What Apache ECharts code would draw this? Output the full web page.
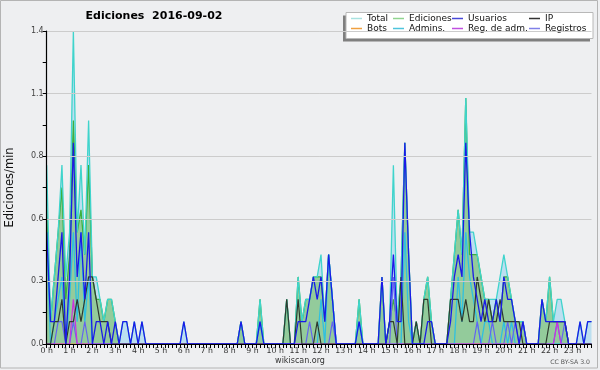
<!DOCTYPE html>
<html><head><meta charset="utf-8">
<script src="https://cdn.jsdelivr.net/npm/echarts@6/dist/echarts.min.js"></script>
<style>html,body{margin:0;padding:0;background:#eeeff1}#c{width:600px;height:370px}</style>
</head><body><div id="c"></div>
<script>
// 10-minute bins, 144 per day (index i = hour*6 + tenMinute)
const hourLabels = ['0 h','1 h','2 h','3 h','4 h','5 h','6 h','7 h','8 h','9 h','10 h','11 h','12 h','13 h','14 h','15 h','16 h','17 h','18 h','19 h','20 h','21 h','22 h','23 h'];
const yTicks = [0, 0.28, 0.56, 0.84, 1.12, 1.4];
const total = [
0.8,0.1,0.3,0.5,0.8,0.3, 0.5,1.4,0.5,0.8,0.4,1.0, 0.3,0.3,0.2,0.1,0.2,0.2, 0.1,0,0.1,0.1,0,0.1,
0,0.1,0,0,0,0, 0,0,0,0,0,0, 0.1,0,0,0,0,0, 0,0,0,0,0,0,
0,0,0,0.1,0,0, 0,0,0.2,0,0,0, 0,0,0,0.2,0,0, 0.3,0.1,0.2,0.2,0.3,0.3,
0.4,0.1,0.4,0.2,0,0, 0,0,0,0,0.2,0, 0,0,0,0,0.3,0, 0.1,0.8,0.1,0.3,0.9,0.4,
0,0.1,0,0.2,0.3,0.1, 0,0,0,0,0.2,0.4, 0.6,0.4,1.1,0.5,0.5,0.4, 0.3,0.2,0.2,0.2,0.2,0.3,
0.4,0.3,0.2,0.1,0.1,0.1, 0,0,0,0,0.2,0.1, 0.3,0.1,0.2,0.2,0.1,0, 0,0,0.1,0,0.1,0.1];
const ediciones = [
0.6,0.1,0.3,0.5,0.7,0.2, 0.4,1.0,0.5,0.6,0.4,0.8, 0.3,0.2,0.2,0.1,0.2,0.2, 0.1,0,0,0,0,0,
0,0,0,0,0,0, 0,0,0,0,0,0, 0,0,0,0,0,0, 0,0,0,0,0,0,
0,0,0,0.1,0,0, 0,0,0.2,0,0,0, 0,0,0,0.2,0,0, 0.3,0.1,0.2,0.2,0.3,0.3,
0.3,0.1,0.4,0.2,0,0, 0,0,0,0,0.2,0, 0,0,0,0,0.3,0, 0.1,0.2,0.1,0.3,0.9,0.4,
0,0.1,0,0.2,0.3,0.1, 0,0,0,0,0.2,0.4, 0.6,0.4,1.1,0.4,0.4,0.4, 0.3,0.2,0.2,0.1,0.2,0.1,
0.3,0.3,0.2,0.1,0.1,0.1, 0,0,0,0,0.2,0.1, 0.3,0.1,0.1,0.1,0.1,0, 0,0,0,0,0,0];
const usuarios = [
0.5,0.1,0.1,0.3,0.5,0, 0.3,0.9,0.3,0.5,0.2,0.5, 0,0.1,0.1,0,0.1,0, 0.1,0,0.1,0.1,0,0.1,
0,0.1,0,0,0,0, 0,0,0,0,0,0, 0.1,0,0,0,0,0, 0,0,0,0,0,0,
0,0,0,0.1,0,0, 0,0,0.1,0,0,0, 0,0,0,0,0,0, 0.1,0.1,0.1,0.2,0.3,0.2,
0.3,0.1,0.4,0.2,0,0, 0,0,0,0,0.1,0, 0,0,0,0,0.3,0, 0.1,0.4,0.1,0.1,0.9,0.4,
0,0,0,0,0.1,0.1, 0,0,0,0,0.1,0.3, 0.4,0.3,0.9,0.5,0.3,0.2, 0.1,0.2,0.1,0.1,0.2,0.1,
0.3,0.2,0.2,0.1,0,0.1, 0,0,0,0,0.2,0.1, 0.1,0.1,0.1,0.1,0.1,0, 0,0,0.1,0,0.1,0.1];
const ip = [
0,0,0.1,0.1,0.2,0, 0.1,0.1,0.2,0.1,0.2,0.3, 0.3,0.2,0.1,0.1,0.1,0, 0,0,0,0,0,0,
0,0,0,0,0,0, 0,0,0,0,0,0, 0,0,0,0,0,0, 0,0,0,0,0,0,
0,0,0,0,0,0, 0,0,0,0,0,0, 0,0,0,0.2,0,0, 0.2,0,0,0,0,0.1,
0,0,0,0,0,0, 0,0,0,0,0,0, 0,0,0,0,0,0, 0.1,0.1,0,0.3,0,0,
0,0.1,0,0.2,0.2,0, 0,0,0,0,0.2,0.2, 0.2,0.1,0.2,0.1,0.1,0.3, 0.2,0.1,0.2,0.1,0.1,0.2,
0.1,0.1,0.1,0.1,0.1,0, 0,0,0,0,0,0, 0.1,0.1,0.1,0.1,0.1,0, 0,0,0,0,0,0];
const bots = [
0,0,0,0,0,0, 0,0,0,0,0,0, 0,0,0,0,0,0, 0,0,0,0,0,0,
0,0,0,0,0,0, 0,0,0,0,0,0, 0,0,0,0,0,0, 0,0,0,0,0,0,
0,0,0,0,0,0, 0,0,0,0,0,0, 0,0,0,0,0,0, 0,0,0,0,0,0,
0,0,0,0,0,0, 0,0,0,0,0,0, 0,0,0,0,0,0, 0,0,0,0,0,0,
0,0,0,0,0,0, 0,0,0,0,0,0, 0,0,0,0,0,0, 0,0,0,0,0,0,
0,0,0,0,0,0, 0,0,0,0,0,0, 0,0,0,0,0,0, 0,0,0,0,0,0];
const admins = [
0.5,0,0.1,0.2,0.3,0, 0.2,0.5,0.1,0.5,0.1,0.3, 0,0,0,0,0,0, 0,0,0,0,0,0,
0,0,0,0,0,0, 0,0,0,0,0,0, 0,0,0,0,0,0, 0,0,0,0,0,0,
0,0,0,0,0,0, 0,0,0.1,0,0,0, 0,0,0,0,0,0, 0,0,0,0,0,0,
0.2,0,0.4,0.2,0,0, 0,0,0,0,0.1,0, 0,0,0,0,0,0, 0,0,0,0,0.5,0.1,
0,0,0,0,0,0, 0,0,0,0,0,0, 0.3,0.1,0.5,0.3,0.2,0.1, 0,0.1,0.1,0,0,0,
0.1,0,0.1,0,0,0, 0,0,0,0,0,0, 0,0,0,0,0,0, 0,0,0,0,0,0];
const regAdm = [
0,0,0,0,0,0, 0,0.2,0,0,0,0, 0,0,0,0,0,0, 0,0,0,0,0,0,
0,0,0,0,0,0, 0,0,0,0,0,0, 0,0,0,0,0,0, 0,0,0,0,0,0,
0,0,0,0,0,0, 0,0,0,0,0,0, 0,0,0,0,0,0, 0,0,0,0,0,0,
0,0,0,0,0,0, 0,0,0,0,0,0, 0,0,0,0,0,0, 0,0,0,0,0,0,
0,0,0,0,0,0, 0,0,0,0,0,0, 0,0,0,0,0,0, 0,0,0,0,0,0,
0,0,0,0,0,0, 0,0,0,0,0,0, 0,0,0.1,0,0,0, 0,0,0,0,0,0];
const registros = [
0,0,0,0.1,0.1,0, 0,0.1,0,0,0.1,0, 0,0,0,0,0,0, 0,0,0,0,0,0,
0,0,0,0,0,0, 0,0,0,0,0,0, 0,0,0,0,0,0, 0,0,0,0,0,0,
0,0,0,0,0,0, 0,0,0,0,0,0, 0,0,0,0,0,0, 0,0,0,0.1,0,0,
0,0,0,0.1,0,0, 0,0,0,0,0,0, 0,0,0,0,0,0, 0,0.3,0,0,0,0,
0,0,0,0,0,0, 0,0,0,0,0,0, 0,0,0,0,0,0.1, 0,0,0,0.1,0,0,
0,0.1,0,0.1,0,0.1, 0,0,0,0,0,0, 0,0,0.1,0,0.1,0, 0,0,0,0,0,0];

const pts = a => a.map((v, i) => [i, v]);
const F = 'DejaVu Sans';
function line(name, arr, color, w, z, extra) {
  return Object.assign({
    name: name, type: 'line', data: pts(arr), showSymbol: false, symbol: 'none',
    lineStyle: { color: color, width: w }, itemStyle: { color: color }, z: z, silent: true
  }, extra || {});
}
const chart = echarts.init(document.getElementById('c'), null, { renderer: 'canvas' });
const legBase = {
  orient: 'vertical', top: 13.5, padding: 0, itemGap: 0, itemWidth: 11, itemHeight: 1.5,
  icon: 'rect', selectedMode: false, z: 6,
  textStyle: { fontFamily: F, fontSize: 9, color: '#111', lineHeight: 10 }
};
const leg = (left, items) => Object.assign({}, legBase, { left: left, data: items });
chart.setOption({
  animation: false,
  backgroundColor: '#eeeff1',
  grid: { left: 46.7, right: 8.5, top: 31, bottom: 26, containLabel: false, outerBoundsMode: 'none' },
  xAxis: {
    type: 'value', min: 0, max: 143, interval: 1, z: 10,
    axisLine: { lineStyle: { color: '#000', width: 1.2 } },
    axisTick: { show: true, length: 4, lineStyle: { color: '#000' } },
    axisLabel: { fontFamily: F, fontSize: 7.8, color: '#333', margin: 2.5, hideOverlap: false,
      formatter: v => (v % 6 === 0 ? hourLabels[v / 6] : '') },
    splitLine: { show: false }
  },
  yAxis: {
    type: 'value', min: 0, max: yTicks[yTicks.length - 1], interval: yTicks[1], z: 10,
    name: 'Ediciones/min', nameLocation: 'middle', nameGap: 30.5, nameRotate: 90,
    nameTextStyle: { fontFamily: F, fontSize: 11.5, color: '#111' },
    axisLine: { show: true, lineStyle: { color: '#000', width: 1.2 } },
    axisTick: { show: true, length: 4, lineStyle: { color: '#000' } },
    minorTick: { show: true, splitNumber: 2, length: 4, lineStyle: { color: '#000' } },
    axisLabel: { fontFamily: F, fontSize: 8, color: '#444', margin: 3, formatter: v => v.toFixed(1) },
    splitLine: { lineStyle: { color: '#cccccc', width: 1 } }
  },
  legend: [
    leg(351, [{ name: 'Total', itemStyle: { color: '#a8e2e0' } }, { name: 'Bots', itemStyle: { color: '#f0a040' } }]),
    leg(393, [{ name: 'Ediciones', itemStyle: { color: '#90d490' } }, { name: 'Admins.', itemStyle: { color: '#4ec4dc' } }]),
    leg(452, [{ name: 'Usuarios', itemStyle: { color: '#4848d8' } }, { name: 'Reg. de adm.', itemStyle: { color: '#c050e0' } }]),
    leg(529, [{ name: 'IP', itemStyle: { color: '#333333' } }, { name: 'Registros', itemStyle: { color: '#8080e8' } }])
  ],
  graphic: [
    { type: 'rect', z: 1, silent: true, shape: { x: 0.5, y: 0.5, width: 597, height: 367.5 },
      style: { fill: 'none', stroke: '#b4b4b4', lineWidth: 1 } },
    { type: 'rect', z: 4, silent: true, shape: { x: 343, y: 15.5, width: 247, height: 26 }, style: { fill: '#7f7f7f' } },
    { type: 'rect', z: 5, silent: true, shape: { x: 346, y: 12.5, width: 247, height: 26 },
      style: { fill: '#ffffff', stroke: '#b8b8b8', lineWidth: 1 } },
    { type: 'text', z: 5, silent: true, x: 154, y: 16,
      style: { text: 'Ediciones  2016-09-02', font: 'bold 11px "DejaVu Sans"', fill: '#000', textAlign: 'center', textVerticalAlign: 'middle' } },
    { type: 'text', z: 5, silent: true, x: 300, y: 361,
      style: { text: 'wikiscan.org', font: '8px "DejaVu Sans"', fill: '#333', textAlign: 'center', textVerticalAlign: 'middle' } },
    { type: 'text', z: 5, silent: true, x: 590, y: 362.5,
      style: { text: 'CC BY-SA 3.0', font: '6.2px "DejaVu Sans"', fill: '#555', textAlign: 'right', textVerticalAlign: 'middle' } }
  ],
  series: [
    line('_totalFill', total, '#bcdff0', 0, 1, { areaStyle: { color: '#bcdff0', opacity: 1 }, lineStyle: { width: 0, opacity: 0 } }),
    line('Ediciones', ediciones, '#3cb03c', 1.3, 2, { areaStyle: { color: 'rgb(140,200,140)', opacity: 0.85 } }),
    line('Bots', bots, '#f0a040', 1.2, 3),
    line('Total', total, '#3fd4cc', 1.3, 3),
    line('Admins.', admins, '#2fc0e0', 1.3, 3),
    line('Registros', registros, '#6464f0', 1.2, 3),
    line('Reg. de adm.', regAdm, '#cc33dd', 1.2, 3),
    line('IP', ip, '#2f3a2f', 1.2, 4),
    line('Usuarios', usuarios, '#1a1ae8', 1.3, 4)
  ]
});
</script></body></html>
